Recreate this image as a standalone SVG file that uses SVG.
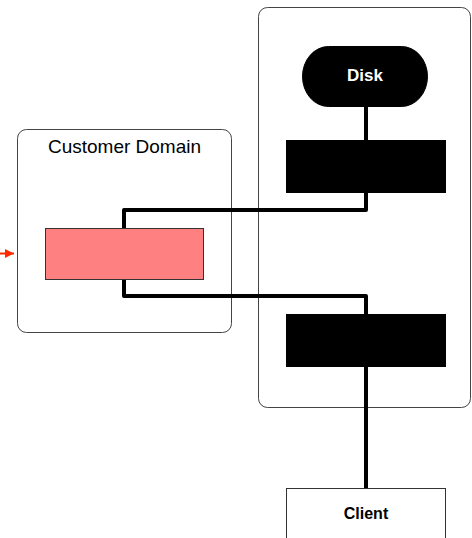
<svg xmlns="http://www.w3.org/2000/svg" width="472" height="538" viewBox="0 0 472 538">
  <style>
    .frame { fill: #ffffff; stroke: #444444; stroke-width: 1; }
    .block { fill: #000000; stroke: #000000; stroke-width: 1; }
    .wire { fill: none; stroke: #000000; stroke-width: 4; stroke-linejoin: round; }
    .title { font-family: "Liberation Sans", Arial, sans-serif; font-size: 19px; fill: #000000; text-anchor: middle; }
    .label { font-family: "Liberation Sans", Arial, sans-serif; font-size: 16px; font-weight: bold; text-anchor: middle; }
  </style>
  <defs>
    <marker id="redHead" viewBox="0 0 10 10" refX="10" refY="5" markerWidth="9" markerHeight="9" markerUnits="userSpaceOnUse" orient="auto">
      <path d="M0,0 L10,5 L0,10 z" fill="#ff2a00"/>
    </marker>
  </defs>

  <rect width="472" height="538" fill="#ffffff"/>

  <!-- containers -->
  <g id="server-zone">
    <rect class="frame" x="258.5" y="7.5" width="212" height="400" rx="9"/>
  </g>
  <g id="customer-domain">
    <rect class="frame" x="17.5" y="129.5" width="214" height="203" rx="9"/>
    <text class="title" x="124.5" y="153">Customer Domain</text>
  </g>

  <!-- connectors -->
  <g id="connectors">
    <path class="wire" d="M366,107 L366,140"/>
    <path class="wire" d="M366,193 L366,210 L124,210 L124,228"/>
    <path class="wire" d="M124,280 L124,296 L366,296 L366,314"/>
    <path class="wire" d="M366,367 L366,488"/>
    <path d="M0,253.5 L14,253.5" stroke="#ff2a00" stroke-width="2" fill="none" marker-end="url(#redHead)"/>
  </g>

  <!-- nodes -->
  <g id="disk">
    <rect class="block" x="302.5" y="46.5" width="125" height="60" rx="26" ry="30"/>
    <text class="label" x="365" y="81" fill="#ffffff" style="font-size:17px">Disk</text>
  </g>
  <g id="upper-service">
    <rect class="block" x="286.5" y="140.5" width="159" height="52"/>
  </g>
  <g id="lower-service">
    <rect class="block" x="286.5" y="314.5" width="159" height="52"/>
  </g>
  <g id="customer-node">
    <rect x="45.5" y="228.5" width="158" height="51" fill="#ff8080" stroke="#333333" stroke-width="1"/>
  </g>
  <g id="client">
    <rect x="286.5" y="488.5" width="159" height="60" fill="#ffffff" stroke="#333333" stroke-width="1"/>
    <text class="label" x="366" y="519" fill="#000000">Client</text>
  </g>
</svg>
